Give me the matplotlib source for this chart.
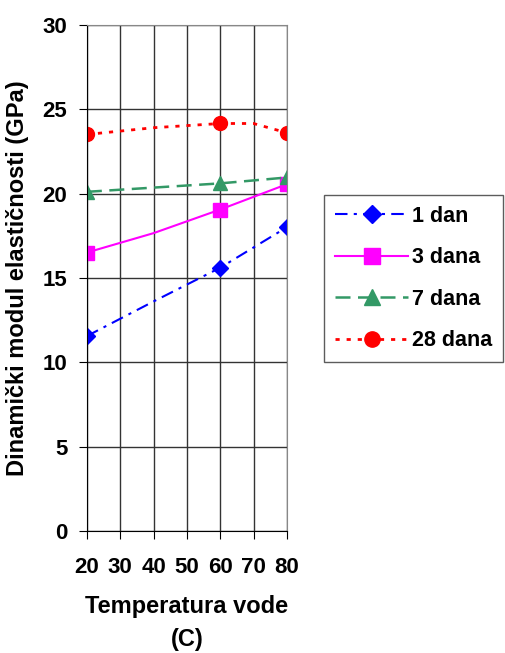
import numpy as np
import matplotlib.pyplot as plt

plt.rcParams['font.family'] = ['Liberation Sans', 'DejaVu Sans']
plt.rcParams['font.weight'] = 'bold'

temps = [20, 30, 40, 50, 60, 70, 80]

x_1 = [20, 40, 60, 80]
y_1 = [11.55, 13.6, 15.6, 18.0]
x_3 = [20, 40, 60, 70, 80]
y_3 = [16.5, 17.65, 19.05, 19.8, 20.55]
x_7 = [20, 40, 60, 80]
y_7 = [20.1, 20.35, 20.6, 20.95]
x_28 = [20, 40, 60, 70, 80]
y_28 = [23.5, 23.9, 24.15, 24.15, 23.6]

fig = plt.figure(figsize=(5.05, 6.53), dpi=100)
ax = fig.add_axes([0.172, 0.187, 0.396, 0.775])

def mark_idx(xs):
    return [i for i, v in enumerate(xs) if v in (20, 60, 80)]

ax.plot(x_1, y_1, color='#0000ff', lw=1.5, dashes=[6, 3, 1.5, 3],
        marker='D', ms=8, markevery=mark_idx(x_1), label='1 dan')
ax.plot(x_3, y_3, color='#ff00ff', lw=1.5, ls='-',
        marker='s', ms=10, markevery=mark_idx(x_3), label='3 dana')
ax.plot(x_7, y_7, color='#339966', lw=1.8, dashes=[6, 3],
        marker='^', ms=10, markevery=mark_idx(x_7), label='7 dana')
ax.plot(x_28, y_28, color='#ff0000', lw=2, dashes=[1.5, 2.5],
        marker='o', ms=10, markevery=mark_idx(x_28), label='28 dana')

ax.set_xlim(20, 80)
ax.set_ylim(0, 30)
ax.set_xticks(temps)
ax.set_yticks(range(0, 31, 5))
ax.grid(True, color='#333333', lw=1)
ax.set_axisbelow(True)
for s in ['top', 'right']:
    ax.spines[s].set_color('#888888')
ax.tick_params(axis='x', direction='out', length=6, pad=13, labelsize=16)
ax.tick_params(axis='y', direction='out', length=6, pad=8, labelsize=16)
for lab in ax.get_xticklabels() + ax.get_yticklabels():
    lab.set_fontweight('bold')

ax.set_xlabel('Temperatura vode\n(C)', fontsize=17, fontweight='bold',
              labelpad=12, linespacing=1.55)
ax.set_ylabel('Dinamički modul elastičnosti (GPa)', fontsize=17,
              fontweight='bold', labelpad=10)

leg = fig.legend(loc='upper left', bbox_to_anchor=(0.642, 0.701),
                 frameon=True, fancybox=False, fontsize=15.5, handlelength=3.4,
                 borderpad=0.5, labelspacing=0.95, handletextpad=0.2,
                 borderaxespad=0, markerscale=1.1)
leg.get_frame().set_edgecolor('#333333')
leg.get_frame().set_linewidth(1)
for t in leg.get_texts():
    t.set_fontweight('bold')

fig.savefig('out.png', dpi=100)
